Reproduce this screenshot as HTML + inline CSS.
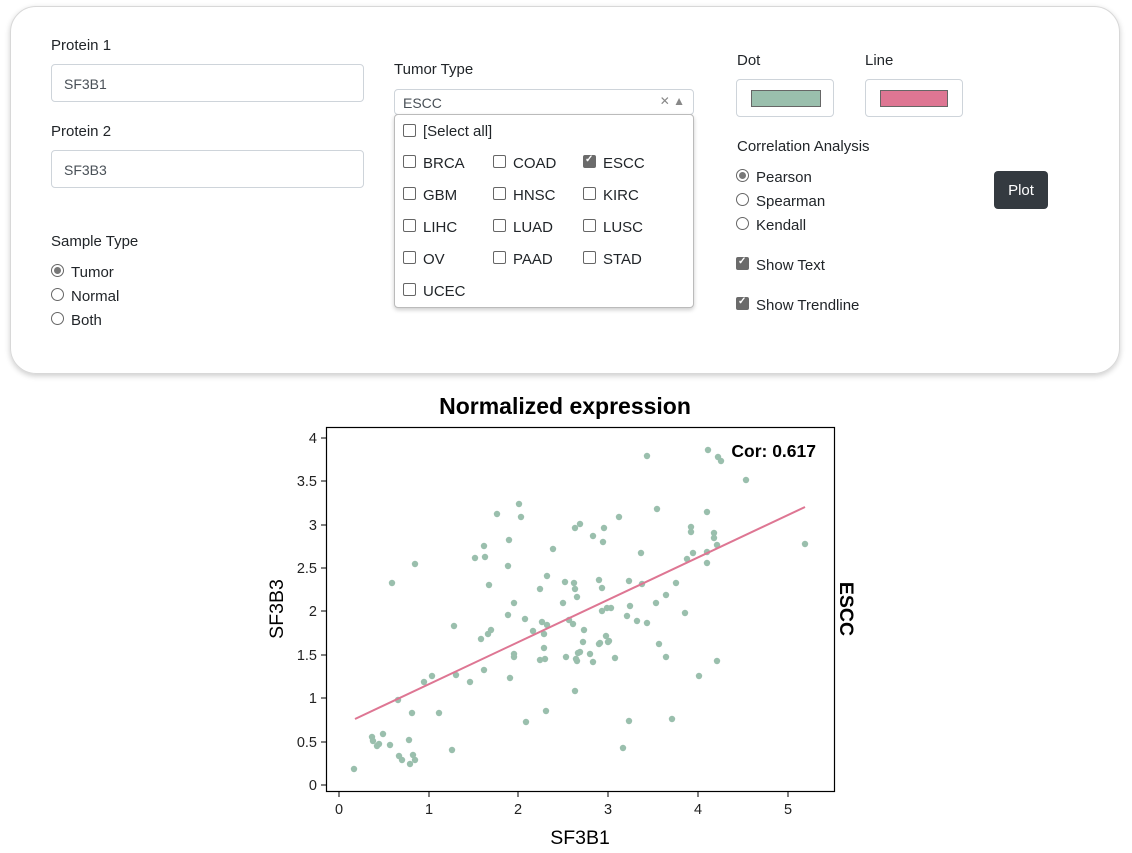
<!DOCTYPE html>
<html><head><meta charset="utf-8"><style>
body{margin:0;width:1132px;height:853px;background:#fff;font-family:"Liberation Sans",sans-serif;color:#212529;position:relative;overflow:hidden}
.a{position:absolute;font-size:15px;white-space:nowrap}
.panel{position:absolute;left:10px;top:6px;width:1108px;height:366px;border:1px solid #d8d8d8;border-radius:26px;box-shadow:0 2px 6px rgba(0,0,0,.2)}
.inp{position:absolute;border:1px solid #ced4da;border-radius:4px;background:#fff;font-size:14px;color:#495057;box-sizing:border-box}
.cb{position:absolute;width:11px;height:11px;border:1px solid #666;border-radius:2px;background:#fff}
.cb.on{background:#6b6b6b;border-color:#6b6b6b}
.cb.on:after{content:"✓";color:#fff;font-size:10px;position:absolute;left:1px;top:-2px;font-weight:bold}
.rd{position:absolute;width:11px;height:11px;border:1px solid #666;border-radius:50%;background:#fff}
.rd.on:after{content:"";position:absolute;left:2px;top:2px;width:7px;height:7px;border-radius:50%;background:#777}
</style></head><body>
<div class="panel"></div>
<div class="a" style="left:51px;top:37px">Protein 1</div>
<div class="inp" style="left:51px;top:64px;width:313px;height:38px;padding:11px 12px">SF3B1</div>
<div class="a" style="left:51px;top:123px">Protein 2</div>
<div class="inp" style="left:51px;top:150px;width:313px;height:38px;padding:11px 12px">SF3B3</div>
<div class="a" style="left:51px;top:233px">Sample Type</div>
<div class="rd on" style="left:51px;top:264px"></div><div class="a" style="left:71px;top:264px">Tumor</div>
<div class="rd" style="left:51px;top:288px"></div><div class="a" style="left:71px;top:288px">Normal</div>
<div class="rd" style="left:51px;top:312px"></div><div class="a" style="left:71px;top:312px">Both</div>

<div class="a" style="left:394px;top:61px">Tumor Type</div>
<div class="inp" style="left:394px;top:89px;width:300px;height:26px;padding:5px 8px">ESCC<span style="position:absolute;right:8px;top:4px;color:#888;font-size:12px">✕ ▲</span></div>
<div class="inp" style="left:394px;top:114px;width:300px;height:194px;border-color:#bbb;box-shadow:0 2px 4px rgba(0,0,0,.2)"></div>
<div class="cb" style="left:403px;top:124px"></div><div class="a" style="left:423px;top:123px">[Select all]</div>
<div class="cb" style="left:403px;top:155px"></div><div class="a" style="left:423px;top:155px">BRCA</div>
<div class="cb" style="left:493px;top:155px"></div><div class="a" style="left:513px;top:155px">COAD</div>
<div class="cb on" style="left:583px;top:155px"></div><div class="a" style="left:603px;top:155px">ESCC</div>
<div class="cb" style="left:403px;top:187px"></div><div class="a" style="left:423px;top:187px">GBM</div>
<div class="cb" style="left:493px;top:187px"></div><div class="a" style="left:513px;top:187px">HNSC</div>
<div class="cb" style="left:583px;top:187px"></div><div class="a" style="left:603px;top:187px">KIRC</div>
<div class="cb" style="left:403px;top:219px"></div><div class="a" style="left:423px;top:219px">LIHC</div>
<div class="cb" style="left:493px;top:219px"></div><div class="a" style="left:513px;top:219px">LUAD</div>
<div class="cb" style="left:583px;top:219px"></div><div class="a" style="left:603px;top:219px">LUSC</div>
<div class="cb" style="left:403px;top:251px"></div><div class="a" style="left:423px;top:251px">OV</div>
<div class="cb" style="left:493px;top:251px"></div><div class="a" style="left:513px;top:251px">PAAD</div>
<div class="cb" style="left:583px;top:251px"></div><div class="a" style="left:603px;top:251px">STAD</div>
<div class="cb" style="left:403px;top:283px"></div><div class="a" style="left:423px;top:283px">UCEC</div>

<div class="a" style="left:737px;top:52px">Dot</div>
<div class="inp" style="left:736px;top:79px;width:98px;height:38px"><div style="position:absolute;left:14px;top:10px;width:68px;height:15px;background:#9abfad;border:1px solid #666"></div></div>
<div class="a" style="left:865px;top:52px">Line</div>
<div class="inp" style="left:865px;top:79px;width:98px;height:38px"><div style="position:absolute;left:14px;top:10px;width:66px;height:15px;background:#de7693;border:1px solid #666"></div></div>
<div class="a" style="left:737px;top:138px">Correlation Analysis</div>
<div class="rd on" style="left:736px;top:169px"></div><div class="a" style="left:756px;top:169px">Pearson</div>
<div class="rd" style="left:736px;top:193px"></div><div class="a" style="left:756px;top:193px">Spearman</div>
<div class="rd" style="left:736px;top:217px"></div><div class="a" style="left:756px;top:217px">Kendall</div>
<div class="cb on" style="left:736px;top:257px"></div><div class="a" style="left:756px;top:257px">Show Text</div>
<div class="cb on" style="left:736px;top:297px"></div><div class="a" style="left:756px;top:297px">Show Trendline</div>
<div style="position:absolute;left:994px;top:171px;width:54px;height:38px;background:#343a40;border-radius:4px;color:#fff;font-size:15px;text-align:center;line-height:40px">Plot</div>

<svg style="position:absolute;left:0;top:0" width="1132" height="853">
<text x="565" y="414" text-anchor="middle" font-size="23" font-weight="bold" font-family="Liberation Sans">Normalized expression</text>
<rect x="326.5" y="427.5" width="508" height="364" fill="none" stroke="#000" stroke-width="1.2"/>
<g stroke="#000" stroke-width="1">
<line x1="339" y1="792" x2="339" y2="797"/><line x1="429" y1="792" x2="429" y2="797"/><line x1="518" y1="792" x2="518" y2="797"/><line x1="608" y1="792" x2="608" y2="797"/><line x1="698" y1="792" x2="698" y2="797"/><line x1="788" y1="792" x2="788" y2="797"/>
<line x1="321" y1="785" x2="326" y2="785"/><line x1="321" y1="742" x2="326" y2="742"/><line x1="321" y1="698" x2="326" y2="698"/><line x1="321" y1="655" x2="326" y2="655"/><line x1="321" y1="611" x2="326" y2="611"/><line x1="321" y1="568" x2="326" y2="568"/><line x1="321" y1="525" x2="326" y2="525"/><line x1="321" y1="481" x2="326" y2="481"/><line x1="321" y1="438" x2="326" y2="438"/>
</g>
<g font-size="14.5" font-family="Liberation Sans" fill="#222" text-anchor="middle">
<text x="339" y="814">0</text><text x="429" y="814">1</text><text x="518" y="814">2</text><text x="608" y="814">3</text><text x="698" y="814">4</text><text x="788" y="814">5</text>
</g>
<g font-size="14.5" font-family="Liberation Sans" fill="#222" text-anchor="end">
<text x="317" y="790">0</text><text x="317" y="747">0.5</text><text x="317" y="703">1</text><text x="317" y="660">1.5</text><text x="317" y="616">2</text><text x="317" y="573">2.5</text><text x="317" y="530">3</text><text x="317" y="486">3.5</text><text x="317" y="443">4</text>
</g>
<text x="580" y="844" text-anchor="middle" font-size="19.5" font-family="Liberation Sans">SF3B1</text>
<text transform="translate(283,609) rotate(-90)" text-anchor="middle" font-size="19.5" font-family="Liberation Sans">SF3B3</text>
<text transform="translate(840,609) rotate(90)" text-anchor="middle" font-size="19.5" font-weight="bold" font-family="Liberation Sans">ESCC</text>
<text x="816" y="457" text-anchor="end" font-size="17.5" font-weight="bold" font-family="Liberation Sans">Cor: 0.617</text>
<g fill="#9abfad">
<circle cx="354" cy="769" r="3.2"/><circle cx="392" cy="583" r="3.2"/><circle cx="415" cy="564" r="3.2"/><circle cx="372" cy="737" r="3.2"/><circle cx="373" cy="741" r="3.2"/><circle cx="377" cy="746" r="3.2"/><circle cx="379" cy="744" r="3.2"/><circle cx="383" cy="734" r="3.2"/><circle cx="390" cy="745" r="3.2"/><circle cx="398" cy="700" r="3.2"/><circle cx="399" cy="756" r="3.2"/><circle cx="402" cy="760" r="3.2"/><circle cx="409" cy="740" r="3.2"/><circle cx="410" cy="764" r="3.2"/><circle cx="413" cy="755" r="3.2"/><circle cx="415" cy="760" r="3.2"/><circle cx="412" cy="713" r="3.2"/><circle cx="424" cy="682" r="3.2"/><circle cx="432" cy="676" r="3.2"/><circle cx="439" cy="713" r="3.2"/><circle cx="452" cy="750" r="3.2"/><circle cx="454" cy="626" r="3.2"/><circle cx="456" cy="675" r="3.2"/><circle cx="470" cy="682" r="3.2"/><circle cx="475" cy="558" r="3.2"/><circle cx="484" cy="546" r="3.2"/><circle cx="485" cy="557" r="3.2"/><circle cx="481" cy="639" r="3.2"/><circle cx="488" cy="634" r="3.2"/><circle cx="491" cy="630" r="3.2"/><circle cx="489" cy="585" r="3.2"/><circle cx="484" cy="670" r="3.2"/><circle cx="497" cy="514" r="3.2"/><circle cx="508" cy="566" r="3.2"/><circle cx="509" cy="540" r="3.2"/><circle cx="508" cy="615" r="3.2"/><circle cx="514" cy="603" r="3.2"/><circle cx="510" cy="678" r="3.2"/><circle cx="514" cy="654" r="3.2"/><circle cx="514" cy="657" r="3.2"/><circle cx="519" cy="504" r="3.2"/><circle cx="521" cy="517" r="3.2"/><circle cx="525" cy="619" r="3.2"/><circle cx="526" cy="722" r="3.2"/><circle cx="533" cy="631" r="3.2"/><circle cx="540" cy="589" r="3.2"/><circle cx="542" cy="622" r="3.2"/><circle cx="544" cy="634" r="3.2"/><circle cx="544" cy="648" r="3.2"/><circle cx="540" cy="660" r="3.2"/><circle cx="545" cy="659" r="3.2"/><circle cx="546" cy="711" r="3.2"/><circle cx="547" cy="576" r="3.2"/><circle cx="547" cy="625" r="3.2"/><circle cx="553" cy="549" r="3.2"/><circle cx="563" cy="603" r="3.2"/><circle cx="565" cy="582" r="3.2"/><circle cx="566" cy="657" r="3.2"/><circle cx="569" cy="620" r="3.2"/><circle cx="573" cy="624" r="3.2"/><circle cx="574" cy="583" r="3.2"/><circle cx="575" cy="589" r="3.2"/><circle cx="577" cy="597" r="3.2"/><circle cx="575" cy="691" r="3.2"/><circle cx="575" cy="528" r="3.2"/><circle cx="580" cy="524" r="3.2"/><circle cx="576" cy="659" r="3.2"/><circle cx="577" cy="661" r="3.2"/><circle cx="578" cy="653" r="3.2"/><circle cx="583" cy="642" r="3.2"/><circle cx="584" cy="630" r="3.2"/>
<circle cx="593" cy="536" r="3.2"/><circle cx="603" cy="542" r="3.2"/><circle cx="604" cy="528" r="3.2"/><circle cx="619" cy="517" r="3.2"/><circle cx="647" cy="456" r="3.2"/><circle cx="657" cy="509" r="3.2"/><circle cx="708" cy="450" r="3.2"/><circle cx="718" cy="457" r="3.2"/><circle cx="721" cy="461" r="3.2"/><circle cx="746" cy="480" r="3.2"/><circle cx="707" cy="512" r="3.2"/><circle cx="691" cy="527" r="3.2"/><circle cx="691" cy="532" r="3.2"/><circle cx="714" cy="533" r="3.2"/><circle cx="714" cy="538" r="3.2"/><circle cx="717" cy="545" r="3.2"/><circle cx="805" cy="544" r="3.2"/><circle cx="641" cy="553" r="3.2"/><circle cx="693" cy="553" r="3.2"/><circle cx="707" cy="552" r="3.2"/><circle cx="687" cy="559" r="3.2"/><circle cx="707" cy="563" r="3.2"/><circle cx="599" cy="580" r="3.2"/><circle cx="602" cy="588" r="3.2"/><circle cx="629" cy="581" r="3.2"/><circle cx="642" cy="584" r="3.2"/><circle cx="676" cy="583" r="3.2"/><circle cx="666" cy="595" r="3.2"/><circle cx="656" cy="603" r="3.2"/><circle cx="630" cy="606" r="3.2"/><circle cx="602" cy="611" r="3.2"/><circle cx="607" cy="608" r="3.2"/><circle cx="611" cy="608" r="3.2"/><circle cx="627" cy="616" r="3.2"/><circle cx="637" cy="621" r="3.2"/><circle cx="647" cy="623" r="3.2"/><circle cx="685" cy="613" r="3.2"/><circle cx="606" cy="636" r="3.2"/><circle cx="599" cy="644" r="3.2"/><circle cx="600" cy="643" r="3.2"/><circle cx="608" cy="642" r="3.2"/><circle cx="609" cy="641" r="3.2"/><circle cx="580" cy="652" r="3.2"/><circle cx="590" cy="654" r="3.2"/><circle cx="593" cy="662" r="3.2"/><circle cx="615" cy="658" r="3.2"/><circle cx="659" cy="644" r="3.2"/><circle cx="666" cy="657" r="3.2"/><circle cx="717" cy="661" r="3.2"/><circle cx="699" cy="676" r="3.2"/><circle cx="672" cy="719" r="3.2"/><circle cx="629" cy="721" r="3.2"/><circle cx="623" cy="748" r="3.2"/>
</g>
<line x1="355" y1="719" x2="805" y2="507" stroke="#de7693" stroke-width="2"/>
</svg>
</body></html>
